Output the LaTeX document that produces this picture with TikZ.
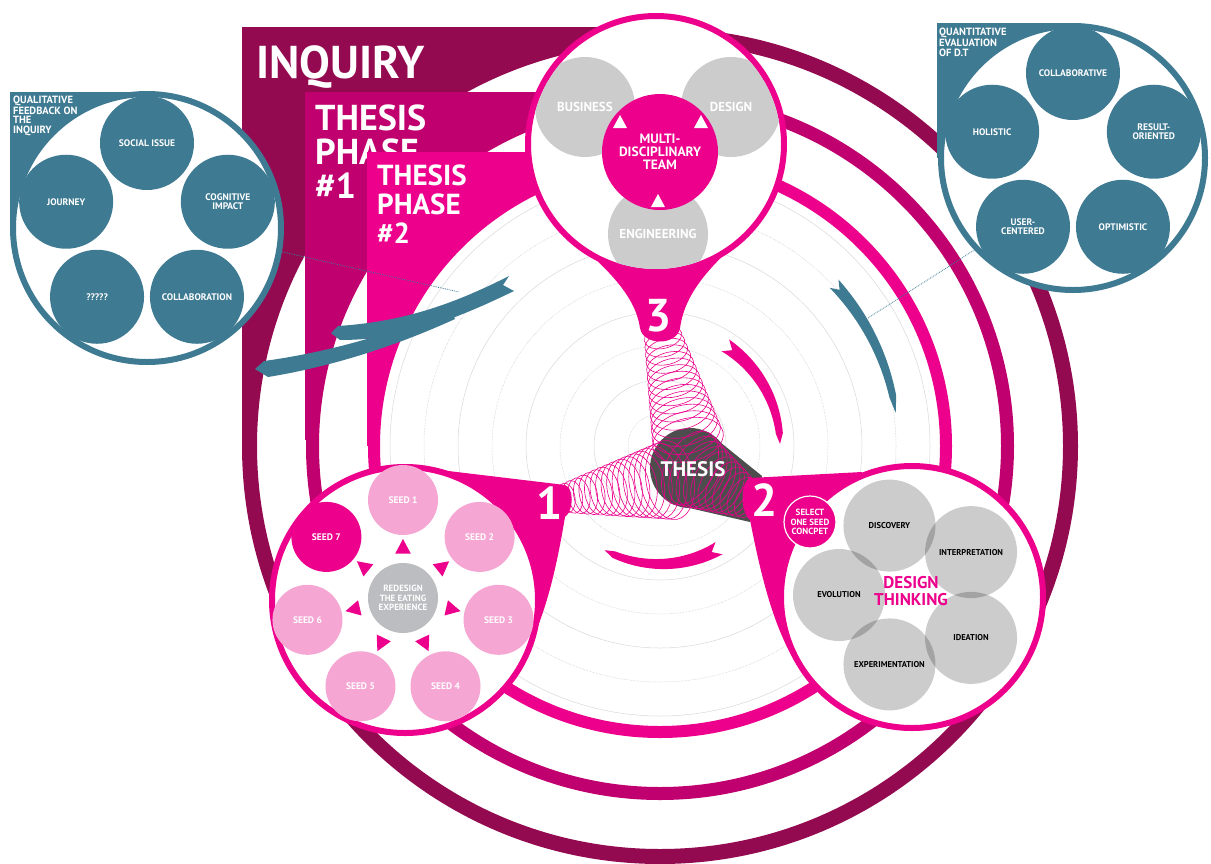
\documentclass[tikz,border=0pt]{standalone}
\usepackage{fontspec}
\setmainfont{PT Sans}

\definecolor{inquiry}{RGB}{148,10,80}
\definecolor{phaseone}{RGB}{193,0,111}
\definecolor{phasetwo}{RGB}{236,0,140}
\definecolor{seedpink}{RGB}{245,166,211}
\definecolor{evalteal}{RGB}{62,122,146}
\definecolor{thesisgrey}{RGB}{77,77,77}
\definecolor{coregrey}{RGB}{188,189,192}
\definecolor{teamgrey}{RGB}{204,204,204}

\newcommand\fsz[2]{\fontsize{#1}{#2}\selectfont\bfseries}

\newcommand\arcarrow[8]{%
  \fill[#1] plot[domain=#3:#4, samples=30] ({660+(#2+(#5+(#6-#5)*(\x-(#3))/((#4)-(#3)))/2)*cos(\x)}, {446+(#2+(#5+(#6-#5)*(\x-(#3))/((#4)-(#3)))/2)*sin(\x)})
    -- ({660+#2*cos(#7)}, {446+#2*sin(#7)})
    -- plot[domain=#4:#3, samples=30] ({660+(#2-(#5+(#6-#5)*(\x-(#3))/((#4)-(#3)))/2)*cos(\x)}, {446+(#2-(#5+(#6-#5)*(\x-(#3))/((#4)-(#3)))/2)*sin(\x)})
    -- ({660+#2*cos(#8)}, {446+#2*sin(#8)}) -- cycle;}

\newcommand\coiltube[7]{%
  \pgfmathsetmacro\coilang{atan2(#4-#1,#5-#2)}
  \foreach \k in {0,...,#7}{
    \pgfmathsetmacro\coilx{#1+(#4-#1)*\k/#7}
    \pgfmathsetmacro\coily{#2+(#5-#2)*\k/#7}
    \pgfmathsetmacro\coilw{(#3+(#6-#3)*\k/#7)/2}
    \draw[coilring, shift={(\coilx,\coily)}, rotate=\coilang] (0,0) ellipse[x radius=\coilw, y radius=0.6*\coilw];
  }}

\begin{document}
\begin{tikzpicture}[x=1pt,y=-1pt]
   \tikzstyle{every node}=[inner sep=0pt, align=center]
   \tikzstyle{evalball}=[circle, fill=evalteal, minimum size=94pt, text=white, font=\fsz{9.5}{9.5}]
   \tikzstyle{evalring}=[circle, draw=evalteal, line width=6pt, fill=white, minimum size=268pt]
   \tikzstyle{stagering}=[circle, draw=phasetwo, line width=6pt, fill=white]
   \tikzstyle{teamball}=[circle, fill=teamgrey, minimum size=100pt, text=white, font=\fsz{13}{13}]
   \tikzstyle{seedball}=[circle, fill=seedpink, minimum size=70pt, text=white, font=\fsz{9.5}{9.5}]
   \tikzstyle{stageball}=[circle, fill=black, fill opacity=0.2, text opacity=1, minimum size=92pt, font=\fsz{8.5}{8.5}]
   \tikzstyle{stagenum}=[text=white, font=\fsz{46}{46}]
   \tikzstyle{coilring}=[phasetwo, line width=0.6pt]
   \tikzstyle{feedback}=[evalteal, densely dotted, line width=0.8pt]

\useasboundingbox (0,0) rectangle (1211,863);

\fill[inquiry] (242,27) rectangle (660,446);
\draw[inquiry, line width=15pt, fill=white] (660,446) circle[radius=410.5];
\node[anchor=north west, text=white, font=\fsz{46}{46}] (inquiry) at (256,45) {INQUIRY};
\fill[phaseone] (305,92) rectangle (660,440);
\draw[phaseone, line width=13pt, fill=white] (660,446) circle[radius=347.5];
\node[anchor=north west, align=left, text=white, font=\fsz{36}{34}] (phase1) at (315,105) {THESIS\\PHASE\\\#1};
\fill[phasetwo] (367,152) rectangle (660,446);
\draw[phasetwo, line width=12pt, fill=white] (660,446) circle[radius=286];
\node[anchor=north west, align=left, text=white, font=\fsz{29}{29}] (phase2) at (377,165) {THESIS\\PHASE\\\#2};

\foreach \r in {32,100,168,236}
  \draw[gray!45, line width=0.5pt, densely dotted] (660,446) circle[radius=\r];
\foreach \r in {66,134,202,270}
  \draw[gray!30, line width=0.5pt] (660,446) circle[radius=\r];

\fill[evalteal] (10,92) rectangle (147,228);
\node[evalring] (qual) at (147,228) {};
\node[anchor=north west, align=left, text=white, font=\fsz{10.5}{9.3}] (qualhead) at (13,96) {QUALITATIVE\\FEEDBACK ON\\THE\\INQUIRY};
\begin{scope}[shift={(147,228)}]
\foreach \a/\t/\n in {-90/SOCIAL ISSUE/social, -18/COGNITIVE\\IMPACT/cognitive, 54/COLLABORATION/collaboration, 126/?????/unknown, 198/JOURNEY/journey}
  \node[evalball] (\n) at (\a:85) {\t};
\end{scope}

\fill[evalteal] (937,23) rectangle (1073,158);
\node[evalring, minimum size=264pt] (quant) at (1073,158) {};
\node[anchor=north west, align=left, text=white, font=\fsz{10.5}{10.5}] (quanthead) at (939,28) {QUANTITATIVE\\EVALUATION\\OF D.T};
\begin{scope}[shift={(1073,158)}]
\foreach \a/\t/\n in {-90/COLLABORATIVE/collaborative, -18/RESULT-\\ORIENTED/result, 54/OPTIMISTIC/optimistic, 126/USER-\\CENTERED/user, 198/HOLISTIC/holistic}
  \node[evalball] (\n) at (\a:85) {\t};
\end{scope}

\coordinate (qualarrow) at (459,292);
\coordinate (quantarrow) at (868,318);
\draw[feedback] (qual.-10) -- (qualarrow);
\draw[feedback] (quantarrow) -- (quant.223);

\fill[evalteal] (255,369) -- (264,361) .. controls (330,352) and (395,333) .. (450,309) -- (455,319) .. controls (398,345) and (335,366) .. (268,377) -- cycle;
\fill[evalteal] (509,276) -- (503,285) -- (514,291) .. controls (450,322) and (400,340) .. (340,340) -- (331,333) -- (338,326) .. controls (400,322) and (450,306) .. (509,276) -- cycle;
\arcarrow{evalteal}{238}{-43}{-12}{12}{7}{-8}{-41}
\arcarrow{phasetwo}{120}{-57}{-6}{14}{7}{-1}{-53}
\arcarrow{phasetwo}{118}{60}{113}{14}{7}{118}{64}

\node[circle, fill=thesisgrey, minimum size=80pt] (thesiscore) at (690,468) {};
\fill[thesisgrey] (715,438) -- (762,476) -- (750,522) -- (672,504) -- cycle;
\coiltube{663}{337}{38}{688}{440}{72}{14}
\coiltube{566}{498}{30}{670}{480}{80}{16}
\coiltube{690}{468}{80}{748}{500}{38}{10}
\node[text=white, font=\fsz{21}{21}] (thesis) at (693,469) {THESIS};

\fill[phasetwo] (574,240) .. controls (615,275) and (636,300) .. (640,328) .. controls (643,346) and (677,346) .. (680,328) .. controls (684,300) and (700,275) .. (740,240) -- cycle;
\node[stagering, minimum size=256pt] (team) at (656,144) {};
\begin{scope}
\clip (656,144) circle[radius=125];
\node[teamball] (business) at (585,107) {BUSINESS};
\node[teamball] (design) at (731,107) {DESIGN};
\node[teamball] (engineering) at (658,234) {ENGINEERING};
\end{scope}
\node[circle, fill=phasetwo, minimum size=116pt, text=white, font=\fsz{13.5}{13}] (mdt) at (660,152) {MULTI-\\DISCIPLINARY\\TEAM};
\foreach \x/\y in {620/122, 701/122, 658/201}
  \fill[white] (\x-7,\y+6) -- (\x+7,\y+6) -- (\x,\y-7) -- cycle;
\node[stagenum] (three) at (659,316) {3};

\fill[phasetwo] (440,470) -- (565,485) .. controls (574,488) and (574,510) .. (565,517) .. controls (556,570) and (545,622) .. (518,668) -- cycle;
\node[stagering, minimum size=266pt] (seeds) at (405,600) {};
\begin{scope}[shift={(403,598)}]
\foreach \i in {1,...,6} {
  \pgfmathsetmacro\a{-90+(\i-1)*360/7}
  \node[seedball] (seed\i) at (\a:98) {SEED \i};
}
\node[seedball, fill=phasetwo] (seed7) at (-90+6*360/7:98) {SEED 7};
\foreach \i in {1,...,7} {
  \pgfmathsetmacro\a{-90+(\i-1)*360/7}
  \fill[phasetwo] (\a:59) -- (\a-10:45) -- (\a+10:45) -- cycle;
}
\node[circle, fill=coregrey, minimum size=70pt, text=white, font=\fsz{9}{9.3}] (brief) at (0,0) {REDESIGN\\THE EATING\\EXPERIENCE};
\end{scope}
\node[stagenum] (one) at (550,503) {1};

\fill[phasetwo] (862,472) -- (750,478) .. controls (740,482) and (740,512) .. (750,520) .. controls (760,570) and (772,625) .. (797,665) -- cycle;
\node[stagering, minimum size=262pt] (thinking) at (912,597) {};
\begin{scope}[shift={(912,595)}]
\foreach \a/\t/\n in {-108/DISCOVERY/discovery, -36/INTERPRETATION/interpretation, 36/IDEATION/ideation, 108/EXPERIMENTATION/experimentation, 180/EVOLUTION/evolution}
  \node[stageball] (\n) at (\a:73) {\t};
\end{scope}
\node[text=phasetwo, font=\fsz{17}{17}] (dt) at (911,591) {DESIGN\\THINKING};
\node[circle, fill=phasetwo, draw=white, line width=1.2pt, minimum size=52pt, text=white, font=\fsz{9}{9.3}] (select) at (810,522) {SELECT\\ONE SEED\\CONCPET};
\node[stagenum] (two) at (765,500) {2};

\end{tikzpicture}
\end{document}
